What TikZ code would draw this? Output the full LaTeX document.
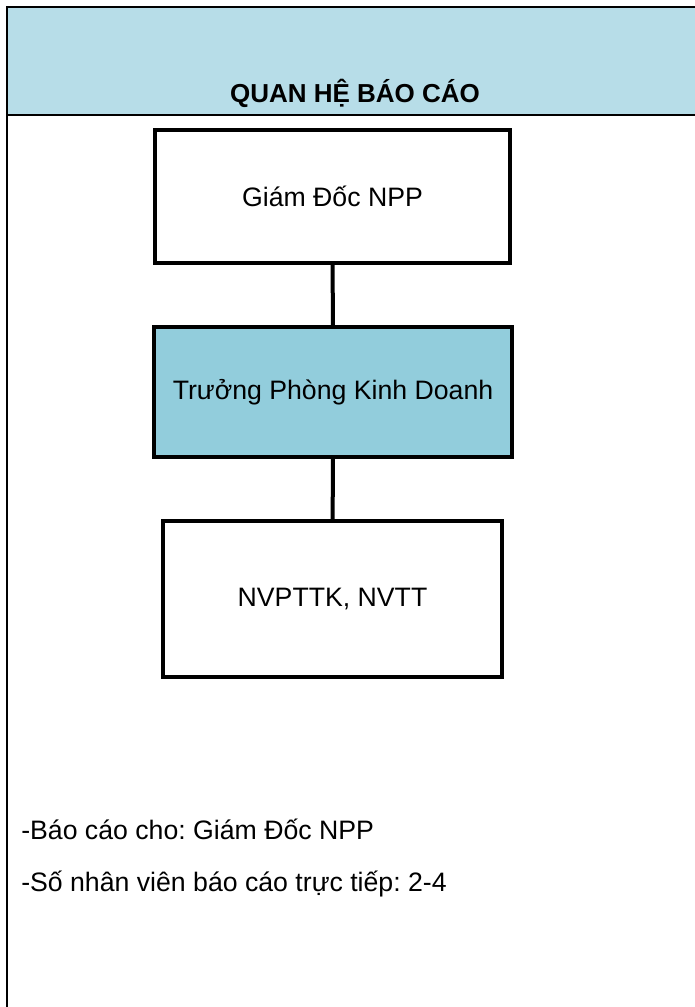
\documentclass[tikz,border=0pt]{standalone}
\usepackage{fontspec}
\setmainfont{Liberation Sans}
\usepackage{tikz}
\usepackage{xcolor}
\frenchspacing
\definecolor{headblue}{HTML}{B7DDE8}
\definecolor{boxblue}{HTML}{92CDDC}
\tikzset{
  box/.style={draw, line width=3pt, align=center, font=\fontsize{20}{24}\selectfont},
  note/.style={anchor=base west, inner sep=0pt, font=\fontsize{20}{24}\selectfont}
}
\begin{document}
\begin{tikzpicture}[x=0.75pt, y=-0.75pt]
\useasboundingbox (0,0) rectangle (695,1007);
\fill[headblue] (7,7) rectangle (695,115);
\draw[line width=1.9pt] (695,7) -- (7,7) -- (7,1007);
\draw[line width=1.9pt] (7,115) -- (695,115);
\node[anchor=base, inner sep=0pt, font=\fontsize{19.5}{23}\selectfont\bfseries] (title) at (355,102) {QUAN HỆ BÁO CÁO};

\node[box, fill=white, minimum width=266.25pt, minimum height=99.75pt] (gd) at (332.5,196.5) {Giám Đốc NPP};
\node[box, fill=boxblue, minimum width=268.5pt, minimum height=97.5pt] (tp) at (333,392) {Trưởng Phòng Kinh Doanh};
\node[box, fill=white, minimum width=254.25pt, minimum height=117pt] (nv) at (332.5,599) {NVPTTK, NVTT};

\draw[line width=3pt] (gd) -- (tp);
\draw[line width=3pt] (tp) -- (nv);

\node[note] (bc) at (21,839) {-Báo cáo cho: Giám Đốc NPP};
\node[note] (sn) at (21,891) {-Số nhân viên báo cáo trực tiếp: 2-4};
\end{tikzpicture}
\end{document}
